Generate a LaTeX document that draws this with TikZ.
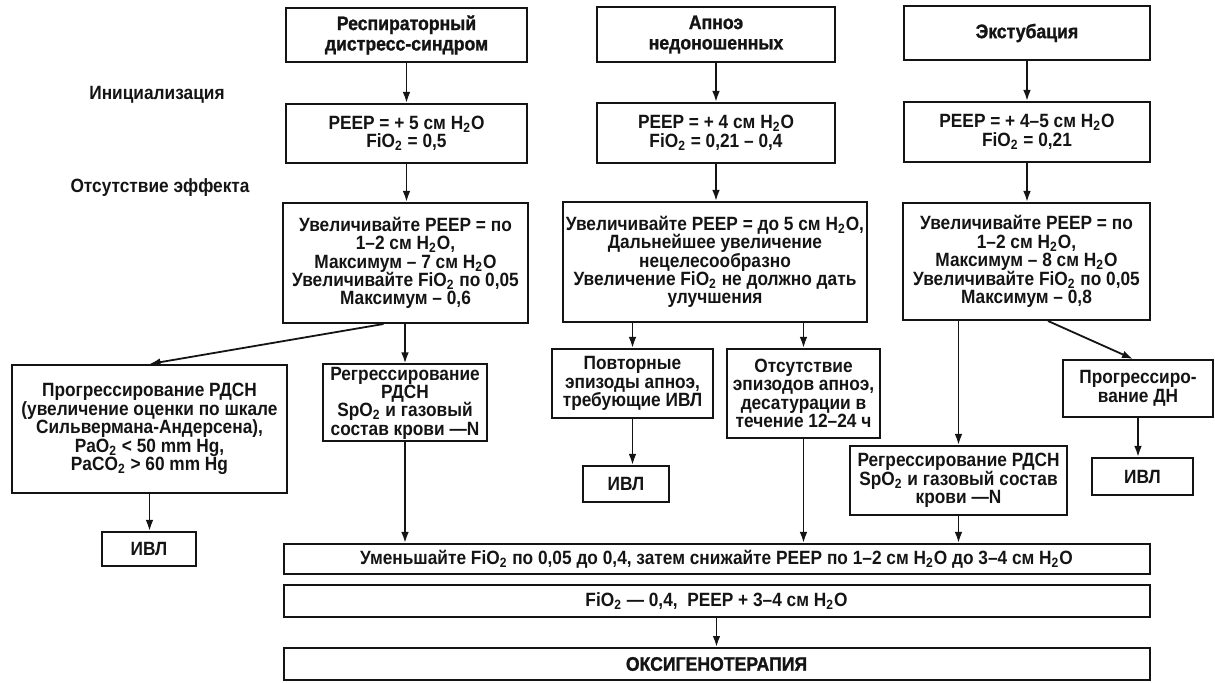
\documentclass[tikz,border=0pt]{standalone}
\usepackage{fontspec}
\setmainfont{Liberation Sans}[FakeStretch=0.9]
\newfontfamily\heavyfont{Liberation Sans}[FakeStretch=0.9, BoldFeatures={FakeBold=1.2}]
\usetikzlibrary{arrows.meta}
\definecolor{Ink}{HTML}{141414}
\newcommand{\water}{H\textsubscript{2}O}
\newcommand{\fio}{FiO\textsubscript{2}}
\newcommand{\spo}{SpO\textsubscript{2}}

\begin{document}
\begin{tikzpicture}[
    x=0.5pt, y=-0.5pt,
    box/.style={
      draw=Ink,
      line width=1pt,
      align=center,
      inner sep=1pt,
      text=Ink,
      font=\fontsize{9.6}{9.2}\selectfont\bfseries
    },
    headbox/.style={box, font=\heavyfont\fontsize{9.8}{10.2}\selectfont\bfseries},
    note/.style={text=Ink, font=\fontsize{9.6}{9.2}\selectfont\bfseries},
    flow/.style={draw=Ink, line width=0.9pt, -{Latex[length=5.5pt,width=3.8pt]}}
  ]
  \useasboundingbox (0,0) rectangle (1215,683);

  % column heads
  \node[headbox, minimum width=120.5pt, minimum height=27pt] (rds) at (406.5,35) {Респираторный\\дистресс-синдром};
  \node[headbox, minimum width=119pt, minimum height=27.5pt] (apnea) at (716,34.5) {Апноэ\\недоношенных};
  \node[headbox, minimum width=123pt, minimum height=27pt] (extub) at (1027,33) {Экстубация};

  \node[note] (initLabel) at (157,95) {Инициализация};
  \node[note] (failLabel) at (160,188) {Отсутствие эффекта};

  % start settings
  \node[box, minimum width=120.5pt, minimum height=29.5pt] (rdsInit) at (406.5,133.5) {PEEP = + 5 см \water\\\fio{} = 0,5};
  \node[box, minimum width=119pt, minimum height=30pt] (apneaInit) at (716,133) {PEEP = + 4 см \water\\\fio{} = 0,21 – 0,4};
  \node[box, minimum width=123pt, minimum height=30pt] (extubInit) at (1027,132) {PEEP = + 4–5 см \water\\\fio{} = 0,21};

  % no effect
  \node[box, minimum width=122.5pt, minimum height=60pt] (rdsStep) at (405.5,263) {Увеличивайте PEEP = по\\1–2 см \water,\\Максимум – 7 см \water\\Увеличивайте \fio{} по 0,05\\Максимум – 0,6};
  \node[box, minimum width=152pt, minimum height=60pt] (apneaStep) at (715,262) {Увеличивайте PEEP = до 5 см \water,\\Дальнейшее увеличение\\нецелесообразно\\Увеличение \fio{} не должно дать\\улучшения};
  \node[box, minimum width=123.5pt, minimum height=58.5pt] (extubStep) at (1026.5,261.5) {Увеличивайте PEEP = по\\1–2 см \water,\\Максимум – 8 см \water\\Увеличивайте \fio{} по 0,05\\Максимум – 0,8};

  % outcomes
  \node[box, minimum width=137.5pt, minimum height=64pt] (rdsWorse) at (149.5,429) {Прогрессирование РДСН\\(увеличение оценки по шкале\\Сильвермана-Андерсена),\\PaO\textsubscript{2} < 50 mm Hg,\\PaCO\textsubscript{2} > 60 mm Hg};
  \node[box, minimum width=82pt, minimum height=38.5pt] (rdsBetter) at (405,403) {Регрессирование\\РДСН\\\spo{} и газовый\\состав крови —N};
  \node[box, minimum width=47pt, minimum height=17pt] (rdsVent) at (149,549) {ИВЛ};

  \node[box, minimum width=80.5pt, minimum height=34.5pt] (apneaRepeat) at (632.5,383.5) {Повторные\\эпизоды апноэ,\\требующие ИВЛ};
  \node[box, minimum width=76.5pt, minimum height=44.5pt] (apneaNone) at (803.5,393.5) {Отсутствие\\эпизодов апноэ,\\десатурации в\\течение 12–24 ч};
  \node[box, minimum width=43pt, minimum height=18pt] (apneaVent) at (626,484) {ИВЛ};

  \node[box, minimum width=75pt, minimum height=28.5pt] (extubWorse) at (1138,388.5) {Прогрессиро-\\вание ДН};
  \node[box, minimum width=50.5pt, minimum height=18.5pt] (extubVent) at (1142.5,476.5) {ИВЛ};
  \node[box, minimum width=108.5pt, minimum height=34.5pt] (extubBetter) at (958.5,480.5) {Регрессирование РДСН\\\spo{} и газовый состав\\крови —N};

  % weaning
  \node[box, minimum width=433pt, minimum height=15pt] (wean) at (716.5,559) {Уменьшайте \fio{} по 0,05 до 0,4, затем снижайте PEEP по 1–2 см \water{} до 3–4 см \water};
  \node[box, minimum width=433pt, minimum height=16pt] (target) at (716.5,601) {\fio{} — 0,4,\ \ PEEP + 3–4 см \water};
  \node[headbox, minimum width=433pt, minimum height=16pt] (oxygen) at (716.5,664) {ОКСИГЕНОТЕРАПИЯ};

  \draw[flow] (rds) -- (rdsInit);
  \draw[flow] (apnea) -- (apneaInit);
  \draw[flow] (extub) -- (extubInit);
  \draw[flow] (rdsInit) -- (rdsStep.north -| rdsInit);
  \draw[flow] (apneaInit) -- (apneaStep.north -| apneaInit);
  \draw[flow] (extubInit) -- (extubStep.north -| extubInit);

  \draw[flow] ([xshift=-11pt]rdsStep.south) -- (rdsWorse.north);
  \draw[flow] (rdsBetter.north |- rdsStep.south) -- (rdsBetter.north);
  \draw[flow] (rdsWorse.south) -- (rdsWorse.south |- rdsVent.north);
  \draw[flow] (rdsBetter.south) -- (rdsBetter.south |- wean.north);

  \draw[flow] (apneaRepeat.north |- apneaStep.south) -- (apneaRepeat.north);
  \draw[flow] (apneaNone.north |- apneaStep.south) -- (apneaNone.north);
  \draw[flow] (apneaRepeat.south) -- (apneaRepeat.south |- apneaVent.north);
  \draw[flow] (apneaNone.south) -- (apneaNone.south |- wean.north);

  \draw[flow] (extubBetter.north |- extubStep.south) -- (extubBetter.north);
  \draw[flow] ([xshift=10.75pt]extubStep.south) -- ([xshift=-2.5pt]extubWorse.north);
  \draw[flow] (extubWorse.south) -- (extubWorse.south |- extubVent.north);
  \draw[flow] (extubBetter.south) -- (extubBetter.south |- wean.north);

  \draw[flow] (target) -- (oxygen);
\end{tikzpicture}
\end{document}
